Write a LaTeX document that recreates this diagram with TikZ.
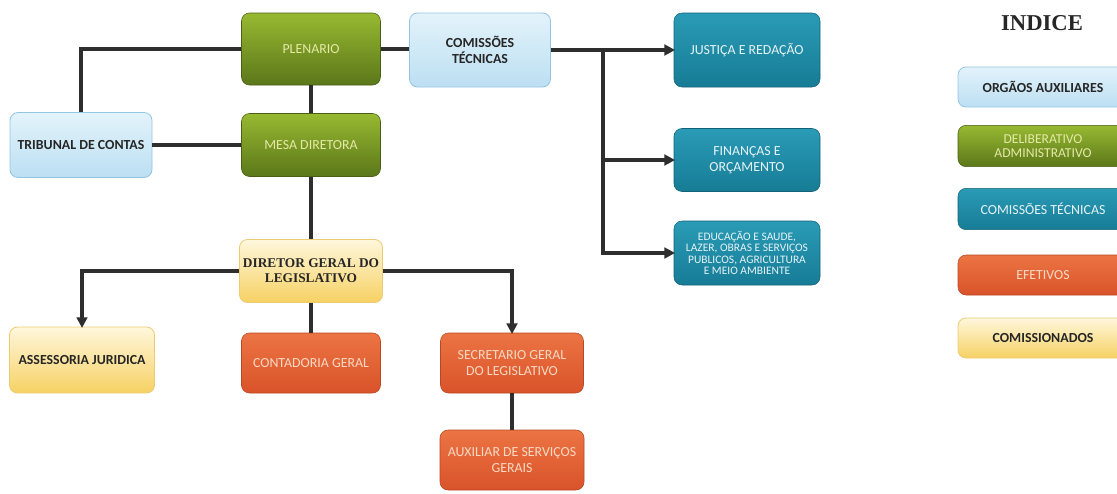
\documentclass[tikz,border=0pt]{standalone}
\usepackage{fontspec}
\setmainfont{Carlito}
\newfontfamily\timesf{Liberation Serif}
\usetikzlibrary{arrows.meta}
\definecolor{linkc}{HTML}{2E2E2E}
\definecolor{auxtop}{HTML}{E3F3FB}
\definecolor{auxbot}{HTML}{BCDFF2}
\definecolor{auxdraw}{HTML}{93C6E2}
\definecolor{deltop}{HTML}{97B931}
\definecolor{delbot}{HTML}{5B771A}
\definecolor{deltxt}{HTML}{E4E9A6}
\definecolor{comtop}{HTML}{2A9BB6}
\definecolor{combot}{HTML}{177C96}
\definecolor{comtxt}{HTML}{E6F3F7}
\definecolor{efetop}{HTML}{EC7443}
\definecolor{efebot}{HTML}{D9532A}
\definecolor{efetxt}{HTML}{F9D9C3}
\definecolor{cmstop}{HTML}{FFF7DC}
\definecolor{cmsbot}{HTML}{F6D163}
\definecolor{cmsdraw}{HTML}{EBCB74}
\tikzset{
  box/.style={rounded corners=6pt, inner sep=1pt, align=center, font=\fontsize{10.4}{12}\selectfont},
  auxbox/.style={box, top color=auxtop, bottom color=auxbot, draw=auxdraw, line width=0.6pt, text=black!85, font=\fontsize{10.4}{12}\selectfont\bfseries},
  delbox/.style={box, top color=deltop, bottom color=delbot, draw=delbot!80!black, line width=0.4pt, text=deltxt},
  combox/.style={box, top color=comtop, bottom color=combot, draw=combot!80!black, line width=0.4pt, text=comtxt},
  efebox/.style={box, top color=efetop, bottom color=efebot, draw=efebot!85!black, line width=0.4pt, text=efetxt},
  cmsbox/.style={box, top color=cmstop, bottom color=cmsbot, draw=cmsdraw, line width=0.6pt, text=black!85, font=\fontsize{10.4}{12}\selectfont\bfseries},
  link/.style={draw=linkc, line width=3pt},
  arr/.style={link, -{Triangle[length=8pt,width=8pt]}, shorten >=-1pt},
}
\begin{document}
\begin{tikzpicture}[x=0.75pt,y=0.75pt,yscale=-1]
\useasboundingbox (0,0) rectangle (1117,493);

%Shape: Rounded Rect -- orgaos auxiliares
\node [auxbox, minimum width=106.5pt, minimum height=48.75pt] (trib) at (81,145) {TRIBUNAL DE CONTAS};
\node [auxbox, minimum width=105.75pt, minimum height=55.5pt] (comt) at (480,50) {COMISSÕES\\TÉCNICAS};
%Shape: Rounded Rect -- deliberativo
\node [delbox, minimum width=104.25pt, minimum height=54pt] (plen) at (311,49) {PLENARIO};
\node [delbox, minimum width=104.25pt, minimum height=47.25pt] (mesa) at (311,145) {MESA DIRETORA};
%Shape: Rounded Rect -- comissoes tecnicas
\node [combox, minimum width=109.5pt, minimum height=55.5pt] (just) at (747,50) {JUSTIÇA E REDAÇÃO};
\node [combox, minimum width=109.5pt, minimum height=47.25pt] (fina) at (747,160) {FINANÇAS E\\ORÇAMENTO};
\node [combox, minimum width=109.5pt, minimum height=48pt, font=\fontsize{8.6}{8.6}\selectfont] (educ) at (747,253) {EDUCAÇÃO E SAUDE,\\LAZER, OBRAS E SERVIÇOS\\PUBLICOS, AGRICULTURA\\E MEIO AMBIENTE};
%Shape: Rounded Rect -- comissionados
\node [cmsbox, minimum width=107.25pt, minimum height=47.25pt, font=\fontsize{10}{11}\selectfont\timesf\bfseries] (dire) at (311,271) {DIRETOR GERAL DO\\LEGISLATIVO};
\node [cmsbox, minimum width=108.75pt, minimum height=49.5pt] (asse) at (82,360) {ASSESSORIA JURIDICA};
%Shape: Rounded Rect -- efetivos
\node [efebox, minimum width=104.25pt, minimum height=45pt] (cont) at (311,363) {CONTADORIA GERAL};
\node [efebox, minimum width=107.25pt, minimum height=45pt] (secr) at (512,363) {SECRETARIO GERAL\\DO LEGISLATIVO};
\node [efebox, minimum width=108pt, minimum height=45pt] (auxi) at (512,460) {AUXILIAR DE SERVIÇOS\\GERAIS};

%Straight Lines
\draw [link] (plen.west) -| (trib.north);
\draw [link] (plen.east) -- (plen.east -| comt.west);
\draw [link] (plen) -- (mesa);
\draw [link] (trib) -- (mesa);
\draw [link] (mesa) -- (dire);
\draw [arr] (comt.east) -- (just.west);
\coordinate (brch) at (603,50);
\draw [arr] (brch) |- (fina.west);
\draw [arr] (brch) |- (educ.west);
\draw [arr] (dire.west) -| (asse.north);
\draw [link] (dire) -- (cont);
\draw [arr] (dire.east) -| (secr.north);
\draw [link] (secr) -- (auxi);

% Text Node -- legenda
\node [font=\fontsize{17}{19}\selectfont\timesf\bfseries, text=black!85] (indi) at (1042,23) {INDICE};
\node [auxbox, minimum width=127.5pt, minimum height=30pt] (lgaux) at (1043,87) {ORGÃOS AUXILIARES};
\node [delbox, minimum width=127.5pt, minimum height=31pt, font=\fontsize{10.2}{10.2}\selectfont] (lgdel) at (1043,146) {DELIBERATIVO\\ADMINISTRATIVO};
\node [combox, minimum width=127.5pt, minimum height=31pt] (lgcom) at (1043,209) {COMISSÕES TÉCNICAS};
\node [efebox, minimum width=127.5pt, minimum height=30pt] (lgefe) at (1043,275) {EFETIVOS};
\node [cmsbox, minimum width=127.5pt, minimum height=30pt] (lgcms) at (1043,338) {COMISSIONADOS};
\end{tikzpicture}
\end{document}
